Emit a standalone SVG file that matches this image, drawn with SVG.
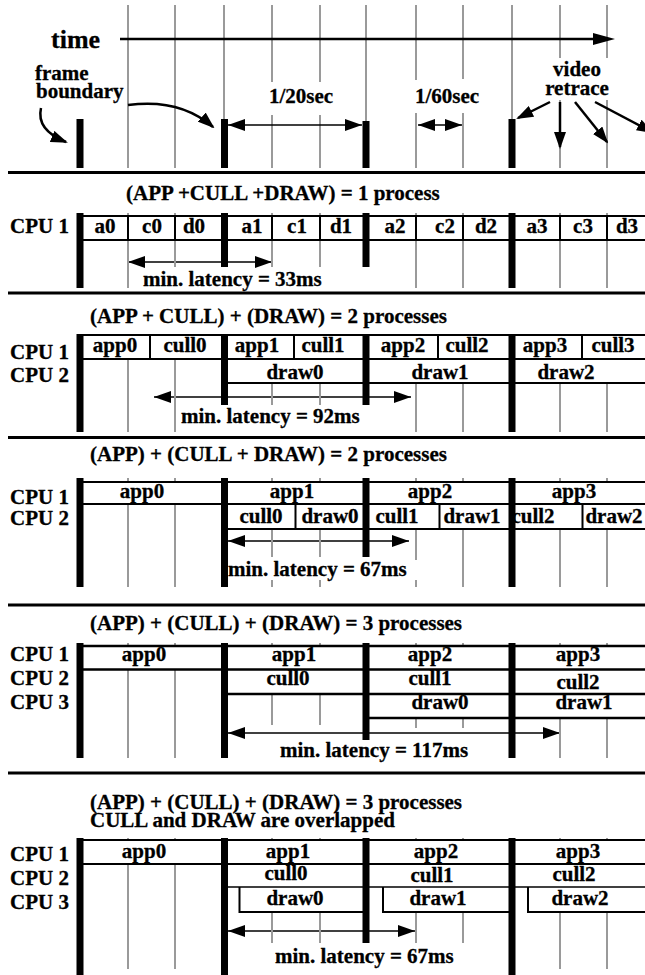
<svg xmlns="http://www.w3.org/2000/svg" width="645" height="975" viewBox="0 0 645 975">
<style>
text{font-family:"Liberation Serif","Times New Roman",serif;font-weight:bold;font-size:21px;fill:#000;stroke:#000;stroke-width:0.3}
.c{text-anchor:middle}
.g{stroke:#9a9a9a;stroke-width:2;fill:none}
.bar{stroke:#000;stroke-width:7}
.bx{stroke:#000;stroke-width:2;fill:none}
.sep{stroke:#000;stroke-width:3}
.arr{stroke:#000;stroke-width:1.5;fill:none;marker-start:url(#ah);marker-end:url(#ah)}
.ca{stroke:#000;stroke-width:2.5;fill:none;marker-end:url(#ah2)}
</style>
<defs>
<marker id="ah" viewBox="0 0 17 12" refX="17" refY="6" markerWidth="17" markerHeight="12" markerUnits="userSpaceOnUse" orient="auto-start-reverse"><path d="M0,0 L17,6 L0,12 z" fill="#000"/></marker>
<marker id="ah2" viewBox="0 0 17 12" refX="15" refY="6" markerWidth="17" markerHeight="12" markerUnits="userSpaceOnUse" orient="auto"><path d="M0,0 L17,6 L0,12 z" fill="#000"/></marker>
</defs>

<g id="header">
<path class="g" d="M128,5V168 M175,5V168 M224,5V119 M272,5V82 M272,115V168 M320,5V82 M320,115V168 M366,5V121 M416,5V80 M416,113V168 M463,5V79 M463,113V168 M512,5V119 M560,5V58 M560,100V168 M607,5V58 M607,100V168"/>
<path class="bar" d="M80,119V168 M224.5,119V168 M366,121V168 M512,119V168"/>
<text x="51" y="48" style="font-size:26px">time</text>
<line x1="120" y1="39" x2="595" y2="39" stroke="#000" stroke-width="2.5"/>
<path d="M615,39 L593,33 L593,45 z" fill="#000"/>
<text x="35" y="80">frame</text>
<text x="36" y="98">boundary</text>
<text x="269" y="103">1/20sec</text>
<text x="415" y="103">1/60sec</text>
<text x="577" y="76" class="c">video</text>
<text x="577" y="95" class="c">retrace</text>
</g>

<g id="connectors">
<line class="arr" x1="228" y1="125" x2="362" y2="125"/>
<line class="arr" x1="418" y1="125" x2="462" y2="125"/>
<path class="ca" d="M41,108 Q36,130 66,142"/>
<path class="ca" d="M128,105 Q180,98 213,127"/>
<path class="ca" d="M550,102 L518,118"/>
<path class="ca" d="M560,102 L560,147"/>
<path class="ca" d="M575,102 L607,142"/>
<path class="ca" d="M595,102 L652,132"/>
<line class="arr" x1="128" y1="262" x2="272" y2="262"/>
<line class="arr" x1="154" y1="397" x2="411" y2="397"/>
<line class="arr" x1="228" y1="541" x2="409" y2="541"/>
<line class="arr" x1="228" y1="733" x2="560" y2="733"/>
<line class="arr" x1="228" y1="931" x2="415" y2="931"/>
</g>

<g id="separators">
<path class="sep" d="M8,172.5H645 M8,293H645 M8,437.5H645 M8,605H645 M8,773H645"/>
</g>

<g id="section1">
<text x="126" y="200">(APP +CULL +DRAW) = 1 process</text>
<text x="10" y="233">CPU 1</text>
<path class="g" d="M128,213V216 M175,213V216 M272,213V216 M320,213V216 M416,213V216 M463,213V216 M560,213V216 M607,213V216 M128,240V288 M175,240V267 M272,240V267 M320,240V267 M416,240V288 M463,240V288 M560,240V288 M607,240V288"/>
<path class="bx" d="M80,216H645 M80,240H645 M128,216V240 M175,216V240 M272,216V240 M320,216V240 M416,216V240 M463,216V240 M560,216V240 M607,216V240"/>
<path class="bar" d="M80,213V288 M224.5,213V267 M366,213V267 M512,213V288"/>
<text x="105" y="233" class="c">a0</text><text x="152" y="233" class="c">c0</text><text x="194" y="233" class="c">d0</text>
<text x="252" y="233" class="c">a1</text><text x="297" y="233" class="c">c1</text><text x="341" y="233" class="c">d1</text>
<text x="395" y="233" class="c">a2</text><text x="445" y="233" class="c">c2</text><text x="486" y="233" class="c">d2</text>
<text x="537" y="233" class="c">a3</text><text x="583" y="233" class="c">c3</text><text x="627" y="233" class="c">d3</text>
<text x="143" y="286">min. latency = 33ms</text>
</g>

<g id="section2">
<text x="90" y="323">(APP + CULL) + (DRAW) = 2 processes</text>
<text x="10" y="359">CPU 1</text>
<text x="10" y="382">CPU 2</text>
<path class="g" d="M128,359V432 M175,359V432 M272,383V405 M320,383V405 M416,383V432 M463,383V432 M560,383V432 M607,383V432"/>
<path class="bx" d="M80,335H645 M80,359H645 M224,383H645 M150,335V359 M294,335V359 M438,335V359 M582,335V359"/>
<path class="bar" d="M80,334V432 M224.5,334V405 M366,334V405 M512,334V432"/>
<text x="115" y="352" class="c">app0</text><text x="185" y="352" class="c">cull0</text>
<text x="257" y="352" class="c">app1</text><text x="323" y="352" class="c">cull1</text>
<text x="403" y="352" class="c">app2</text><text x="467" y="352" class="c">cull2</text>
<text x="545" y="352" class="c">app3</text><text x="613" y="352" class="c">cull3</text>
<text x="295" y="379" class="c">draw0</text><text x="440" y="379" class="c">draw1</text><text x="566" y="379" class="c">draw2</text>
<text x="181" y="423">min. latency = 92ms</text>
</g>

<g id="section3">
<text x="90" y="461">(APP) + (CULL + DRAW) = 2 processes</text>
<text x="10" y="504">CPU 1</text>
<text x="10" y="525">CPU 2</text>
<path class="g" d="M128,478V482 M175,478V482 M272,478V482 M320,478V482 M416,478V482 M463,478V482 M560,478V482 M607,478V482 M128,504V587 M175,504V587 M272,529V557 M272,580V587 M320,529V557 M320,580V587 M416,529V560 M416,580V587 M463,529V587 M560,529V587 M607,529V587"/>
<path class="bx" d="M80,482H645 M80,504H645 M224,529H645 M295.5,504V529 M439.5,504V529 M582.5,504V529"/>
<path class="bar" d="M80,478V587 M224.5,478V587 M366,478V557 M512,478V587"/>
<text x="142" y="498" class="c">app0</text><text x="292" y="498" class="c">app1</text><text x="430" y="498" class="c">app2</text><text x="574" y="498" class="c">app3</text>
<text x="261" y="523" class="c">cull0</text><text x="330" y="523" class="c">draw0</text>
<text x="397" y="523" class="c">cull1</text><text x="472" y="523" class="c">draw1</text>
<text x="533" y="523" class="c">cull2</text><text x="614" y="523" class="c">draw2</text>
<text x="228" y="576">min. latency = 67ms</text>
</g>

<g id="section4">
<text x="90" y="630">(APP) + (CULL) + (DRAW) = 3 processes</text>
<text x="10" y="661">CPU 1</text>
<text x="10" y="685">CPU 2</text>
<text x="10" y="709">CPU 3</text>
<path class="g" d="M128,643V646 M175,643V646 M272,643V646 M320,643V646 M416,643V646 M463,643V646 M560,643V646 M607,643V646 M128,669V758 M175,669V758 M272,694V725 M320,694V725 M416,718V728 M463,718V728 M560,718V758 M607,718V758"/>
<path class="bx" d="M80,646H645 M80,669.5H645 M224,694H645 M366,718H645" style="stroke-width:2.5"/>
<path class="bar" d="M80,643V758 M224.5,643V758 M366,643V740 M512,643V758"/>
<text x="144" y="661" class="c">app0</text><text x="294" y="661" class="c">app1</text><text x="430" y="661" class="c">app2</text><text x="578" y="661" class="c">app3</text>
<text x="288" y="685" class="c">cull0</text><text x="430" y="685" class="c">cull1</text><text x="578" y="689" class="c">cull2</text>
<text x="440" y="709" class="c">draw0</text><text x="584" y="709" class="c">draw1</text>
<text x="280" y="757">min. latency = 117ms</text>
</g>

<g id="section5">
<text x="90" y="809">(APP) + (CULL) + (DRAW) = 3 processes</text>
<text x="90" y="827">CULL and DRAW are overlapped</text>
<text x="10" y="861">CPU 1</text>
<text x="10" y="885">CPU 2</text>
<text x="10" y="909">CPU 3</text>
<path class="g" d="M128,838V840 M175,838V840 M272,838V840 M320,838V840 M416,838V840 M463,838V840 M560,838V840 M607,838V840 M128,864V969 M175,864V969 M272,912V943 M320,912V943 M416,912V943 M463,912V943 M560,912V969 M607,912V969"/>
<path class="bx" d="M80,840H645 M80,864H645"/>
<path class="bx" d="M224,887H645" style="stroke-width:1.5"/>
<path class="bx" d="M239.5,887V912H366 M383,887V912H512 M528,887V912H645"/>
<path class="bar" d="M80,838V975 M224.5,838V975 M366,838V943 M512,838V975"/>
<text x="144" y="858" class="c">app0</text><text x="288" y="858" class="c">app1</text><text x="436" y="858" class="c">app2</text><text x="578" y="858" class="c">app3</text>
<text x="286" y="880" class="c">cull0</text><text x="432" y="882" class="c">cull1</text><text x="574" y="881" class="c">cull2</text>
<text x="295" y="905" class="c">draw0</text><text x="438" y="905" class="c">draw1</text><text x="580" y="905" class="c">draw2</text>
<text x="275" y="963">min. latency = 67ms</text>
</g>
</svg>
